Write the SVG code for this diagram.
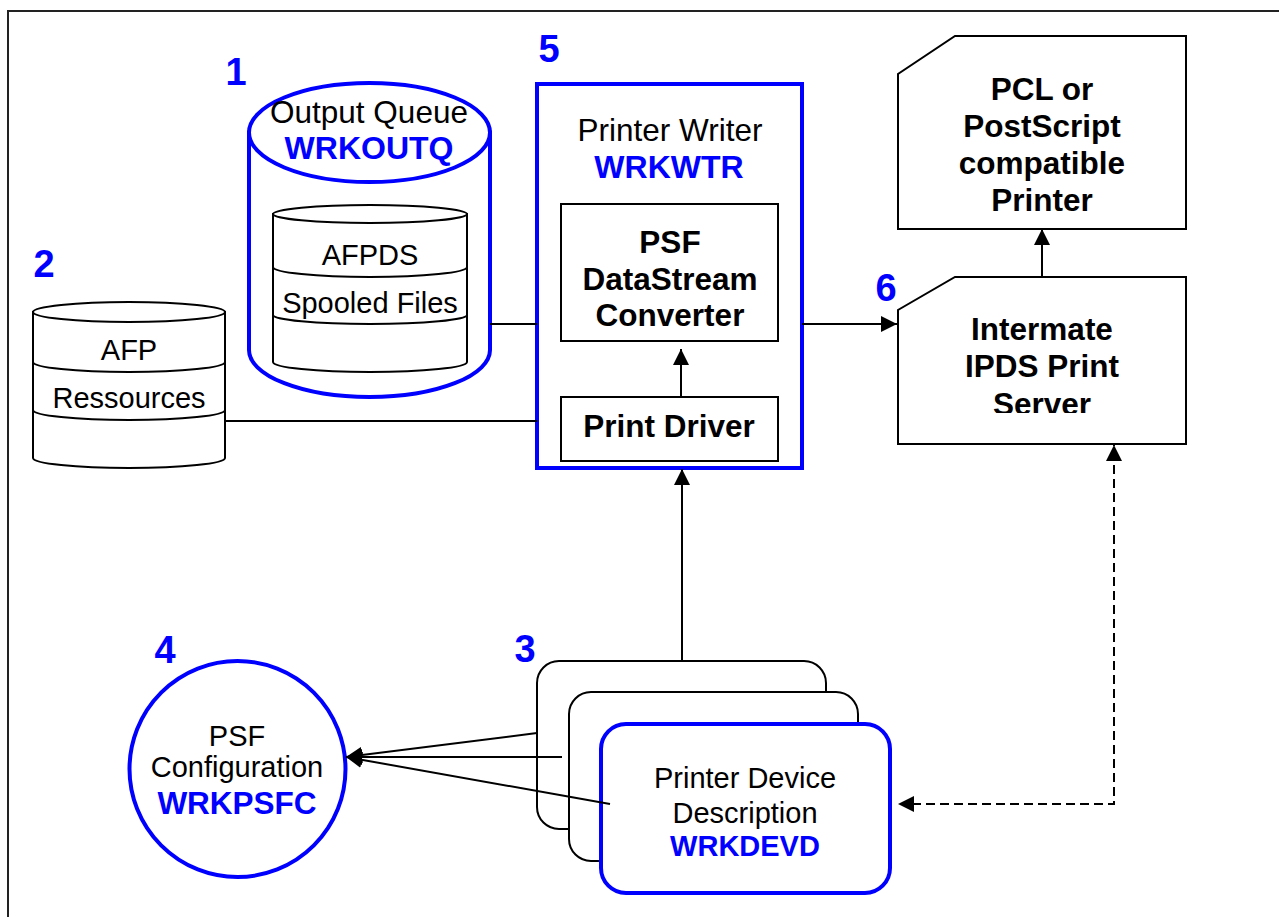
<svg xmlns="http://www.w3.org/2000/svg" width="1279" height="917" viewBox="0 0 1279 917">
<style>
.s{fill:#fff;stroke:#000;stroke-width:2}
.b{fill:#fff;stroke:#0000ff;stroke-width:4}
.ln{fill:none;stroke:#000;stroke-width:2}
.t{font-family:"Liberation Sans",Arial,sans-serif;fill:#000;text-anchor:middle}
.n{font-size:29px}
.m{font-size:31.5px}
.bd{font-weight:bold;font-size:31.5px}
.bl{fill:#0000ff;font-weight:bold}
.num{font-family:"Liberation Sans",Arial,sans-serif;fill:#0000ff;font-weight:bold;font-size:38px;text-anchor:middle}
</style>
<defs>
<marker id="ah" markerUnits="userSpaceOnUse" markerWidth="18" markerHeight="16" refX="16" refY="8" orient="auto">
<path d="M0,0 L16,8 L0,16 Z" fill="#000"/>
</marker>
<clipPath id="srvclip"><rect x="898" y="277" width="288" height="136"/></clipPath>
</defs>
<rect width="1279" height="917" fill="#fff"/>
<rect x="8" y="11" width="1300" height="950" fill="none" stroke="#222" stroke-width="2"/>

<g id="node-outq">
<path class="b" d="M249,132.5 L249,350 A120.5,47 0 0 0 490,350 L490,132.5 Z"/>
<ellipse class="b" cx="369.5" cy="132.5" rx="120.5" ry="49.5"/>
<text class="t m" x="369" y="123">Output Queue</text>
<text class="t bl" style="font-size:32px" x="369" y="159">WRKOUTQ</text>
<path class="s" d="M273,214 L273,362 A97,10 0 0 0 467,362 L467,214 Z"/>
<ellipse class="s" cx="370" cy="214" rx="97" ry="9"/>
<path class="ln" d="M273,267 A97,10 0 0 0 467,267 M273,315 A97,9 0 0 0 467,315"/>
<text class="t n" x="370" y="265">AFPDS</text>
<text class="t n" x="370" y="313">Spooled Files</text>
<text class="num" x="236" y="85">1</text>
</g>

<g id="node-afp">
<path class="s" d="M33,312 L33,458 A96,10 0 0 0 225,458 L225,312 Z"/>
<ellipse class="s" cx="129" cy="312" rx="96" ry="10"/>
<path class="ln" d="M33,362 A96,10 0 0 0 225,362 M33,410 A96,10 0 0 0 225,410"/>
<text class="t n" x="129" y="360">AFP</text>
<text class="t n" x="129" y="408">Ressources</text>
<text class="num" x="44" y="277">2</text>
</g>

<g id="node-writer">
<rect class="b" x="537" y="84" width="265" height="384"/>
<text class="t m" x="670" y="141">Printer Writer</text>
<text class="t bl" style="font-size:32px" x="669" y="178">WRKWTR</text>
<text class="num" x="549" y="62">5</text>
</g>

<g id="node-psf">
<rect class="s" x="561" y="204" width="217" height="137"/>
<text class="t bd" x="670" y="253">PSF</text>
<text class="t bd" x="670" y="290">DataStream</text>
<text class="t bd" x="670" y="326">Converter</text>
</g>

<g id="node-driver">
<rect class="s" x="561" y="397" width="217" height="64"/>
<text class="t bd" x="669" y="437">Print Driver</text>
</g>

<g id="node-printer">
<path class="s" d="M955,36 L1186,36 L1186,229 L898,229 L898,74 Z"/>
<text class="t bd" x="1042" y="100">PCL or</text>
<text class="t bd" x="1042" y="137">PostScript</text>
<text class="t bd" x="1042" y="174">compatible</text>
<text class="t bd" x="1042" y="211">Printer</text>
</g>

<g id="node-server">
<path class="s" d="M955,277 L1186,277 L1186,444 L898,444 L898,310 Z"/>
<text class="t bd" x="1042" y="340">Intermate</text>
<text class="t bd" x="1042" y="377">IPDS Print</text>
<text class="t bd" x="1042" y="415" clip-path="url(#srvclip)">Server</text>
<text class="num" x="886" y="301">6</text>
</g>

<g id="node-psfc">
<circle class="b" cx="237.5" cy="769" r="108"/>
<text class="t n" x="237" y="746">PSF</text>
<text class="t n" x="237" y="777">Configuration</text>
<text class="t bl" style="font-size:31.5px" x="237" y="814">WRKPSFC</text>
<text class="num" x="165" y="663">4</text>
</g>

<g id="node-devd">
<rect class="s" x="537" y="661" width="289" height="168" rx="22"/>
<rect class="s" x="569" y="692" width="289" height="169" rx="22"/>
<rect class="b" x="601" y="724" width="289" height="169" rx="25"/>
<text class="t n" x="745" y="788">Printer Device</text>
<text class="t n" x="745" y="823">Description</text>
<text class="t bl" style="font-size:29px" x="745" y="856">WRKDEVD</text>
<text class="num" x="525" y="662">3</text>
</g>

<g id="connectors">
<line class="ln" x1="490" y1="324" x2="537" y2="324"/>
<line class="ln" x1="225" y1="421" x2="537" y2="421"/>
<line class="ln" x1="681" y1="397" x2="681" y2="349" marker-end="url(#ah)"/>
<line class="ln" x1="802" y1="324" x2="897" y2="324" marker-end="url(#ah)"/>
<line class="ln" x1="1042" y1="277" x2="1042" y2="229" marker-end="url(#ah)"/>
<line class="ln" x1="682" y1="661" x2="682" y2="469" marker-end="url(#ah)"/>
<line class="ln" x1="537" y1="733" x2="346" y2="757" marker-end="url(#ah)"/>
<line class="ln" x1="562" y1="757" x2="346" y2="757" marker-end="url(#ah)"/>
<line class="ln" x1="610" y1="804" x2="346" y2="757" marker-end="url(#ah)"/>
<path class="ln" d="M912,804 L1114,804 L1114,445" stroke-dasharray="9,5" marker-end="url(#ah)"/>
<path d="M898,804 L914,796 L914,812 Z" fill="#000"/>
</g>
</svg>
